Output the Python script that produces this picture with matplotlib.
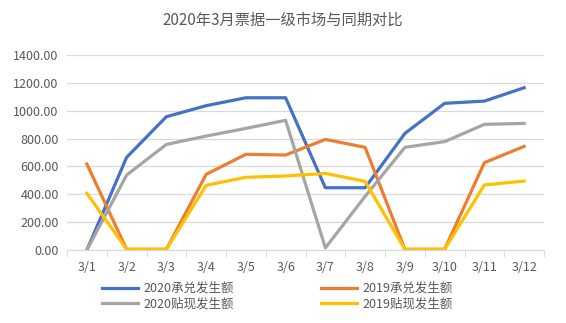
import matplotlib.pyplot as plt

plt.rcParams['font.family'] = ['Noto Sans CJK SC', 'DejaVu Sans']

dates = ['3/1', '3/2', '3/3', '3/4', '3/5', '3/6', '3/7', '3/8', '3/9', '3/10', '3/11', '3/12']
accept_2020 = [0, 665, 957, 1036, 1093, 1093, 447, 447, 837, 1053, 1069, 1165]
accept_2019 = [617, 5, 5, 543, 687, 682, 794, 737, 5, 5, 627, 744]
discount_2020 = [0, 538, 758, 818, 873, 931, 15, 385, 737, 778, 902, 909]
discount_2019 = [407, 5, 5, 464, 522, 531, 550, 493, 5, 5, 467, 495]

fig = plt.figure(figsize=(5.66, 3.23), dpi=100)
ax = fig.add_axes([67 / 566, 1 - 250 / 323, 477 / 566, 195 / 323])

x = range(len(dates))
lw = 2.3
l1, = ax.plot(x, accept_2020, color='#4472C4', lw=lw, label='2020承兑发生额')
l2, = ax.plot(x, accept_2019, color='#ED7D31', lw=lw, label='2019承兑发生额')
l3, = ax.plot(x, discount_2020, color='#A5A5A5', lw=lw, label='2020贴现发生额')
l4, = ax.plot(x, discount_2019, color='#FFC000', lw=lw, label='2019贴现发生额')

ax.set_xlim(-0.5, 11.5)
ax.set_ylim(0, 1400)
ax.set_yticks(range(0, 1401, 200))
ax.set_yticklabels([f'{v:.2f}' for v in range(0, 1401, 200)])
ax.set_xticks(list(x))
ax.set_xticklabels(dates)
ax.set_xticks([i - 0.5 for i in range(len(dates) + 1)], minor=True)
ax.tick_params(axis='x', which='major', length=0, pad=8)
ax.tick_params(axis='x', which='minor', length=5, color='#D9D9D9')
ax.tick_params(axis='y', length=0, pad=6)
ax.tick_params(labelsize=9, labelcolor='#595959')

ax.grid(axis='y', color='#D9D9D9', lw=0.9)
ax.set_axisbelow(True)
for side in ['top', 'right', 'left']:
    ax.spines[side].set_visible(False)
ax.spines['bottom'].set_color('#D9D9D9')

fig.suptitle('2020年3月票据一级市场与同期对比', y=0.965, fontsize=11, color='#595959')

fig.legend(handles=[l1, l3, l2, l4], ncol=2, loc='center', bbox_to_anchor=(0.49, 0.083),
           frameon=False, fontsize=9, labelcolor='#595959', handlelength=2.9,
           columnspacing=7.0, handletextpad=0.4, labelspacing=0.2)

fig.savefig('out.png', dpi=100)
